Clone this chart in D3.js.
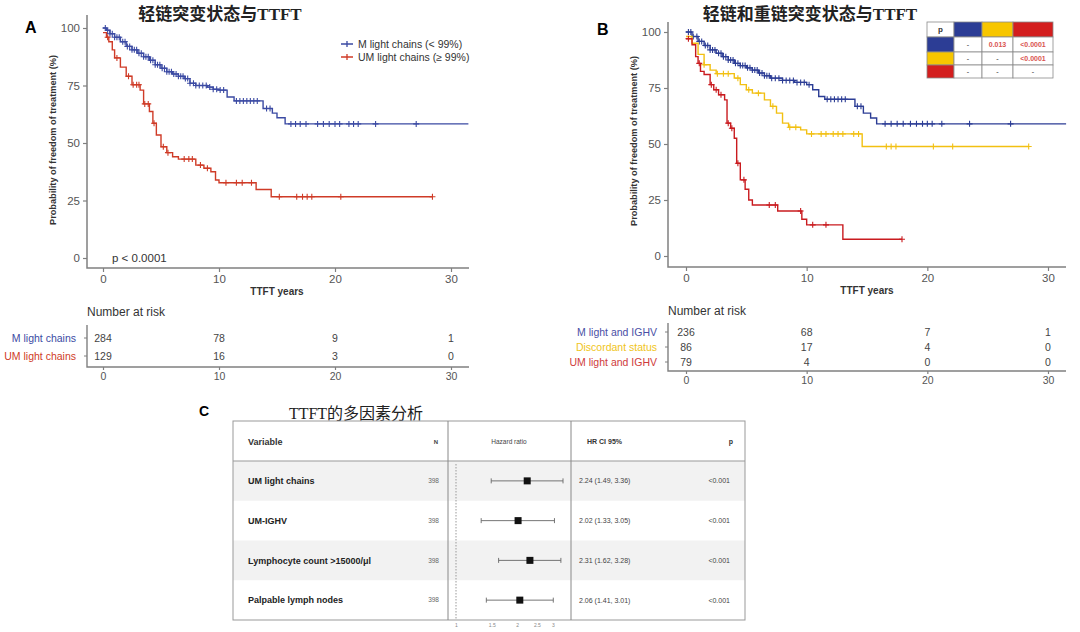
<!DOCTYPE html>
<html><head><meta charset="utf-8">
<script src="https://cdn.jsdelivr.net/npm/d3@7"></script>
<style>
body{margin:0;background:#fff}
svg{display:block}
text{font-family:"Liberation Sans",Arial,sans-serif}
</style>
</head><body>
<svg id="c" width="1080" height="632"></svg>
<script>
// ---------------- DATA ----------------
const xTicks = [0, 10, 20, 30];
const yTicks = [0, 25, 50, 75, 100];

// Panel A: KM steps (time, survival %)
const aM_t = [0,0.3,0.6,1,1.5,2,2.5,3,3.5,4,4.5,5,5.5,6,6.5,7,7.5,8,9,9.5,10,10.7,11.3,13.8,14.6,15,15.7];
const aM_s = [100,99,97.5,96,94,92,90.5,89,87.5,86,84,82.5,81,80,79,78,76,75,74.3,73.4,73,70,68.3,65,63,61,58.3];
const aM_end = 31.5;
const aM_cens = [0.2,0.4,0.6,0.8,1,1.2,1.4,1.7,1.9,2.1,2.3,2.5,2.7,2.9,3.1,3.3,3.5,3.7,3.9,4.1,4.3,4.5,4.7,4.9,5.1,5.3,5.5,5.7,5.9,6.1,6.3,6.5,6.7,6.9,7.1,7.3,7.5,7.8,8,8.3,8.6,8.9,9.2,9.5,9.8,10.1,10.4,11.5,11.8,12.1,12.4,12.7,13,13.3,14.1,14.4,16.2,16.6,17,17.5,18.5,19,19.5,20,20.4,21.2,21.6,22,23.5,27];

const aU_t = [0,0.3,0.5,0.8,1,1.5,2,2.5,3.2,3.5,4,4.3,4.6,5,5.5,6,6.5,8,8.7,9.3,9.7,10,13.2,14.5];
const aU_s = [98,96,94,90.5,87,83,79,75.3,73,67,63.7,58.6,53.5,48.4,45.8,44,43,40.4,39,37.5,33.9,32.7,29.8,26.6];
const aU_end = 28.4;
const aU_cens = [0.4,1.2,2.2,2.6,2.9,3.1,3.6,3.9,4.4,5.2,5.6,7,7.4,7.7,8.4,9,10.6,11.5,12,12.8,15.2,16.7,17.2,17.6,18,20.5,28.4];

// Panel B
const bM_t = [0,0.5,1,1.5,2,2.5,3,3.5,4,4.5,5,5.5,6,6.5,7,8,9,10,10.5,11,11.5,14,14.7,15.3,15.8];
const bM_s = [100,98,95.8,94,92,90.5,89,87.5,86,85,84,83,81.7,80.5,79.4,78.4,77.5,76.5,74.2,71.2,70,66.8,63.8,61.6,59];
const bM_end = 31.5;
const bM_cens = [0.2,0.4,0.6,0.9,1.1,1.3,1.6,1.8,2,2.2,2.4,2.7,2.9,3.1,3.3,3.5,3.7,3.9,4.1,4.3,4.5,4.7,4.9,5.1,5.3,5.5,5.7,5.9,6.1,6.3,6.5,6.7,6.9,7.1,7.4,7.7,8,8.3,8.6,8.9,9.2,9.5,9.8,10.2,11.7,12,12.3,12.6,12.9,13.2,14.2,14.5,16.5,17,17.5,18,18.6,19.1,19.6,20,20.4,21.2,23.5,26.9];

const bD_t = [0,0.5,1,1.5,2,2.5,4,4.5,5,5.5,6.5,7,7.5,8,8.5,9.5,10,14.6];
const bD_s = [98,95,90,85.4,83,81.4,79.4,76.5,74.2,72.7,69.7,66.8,63.8,59.3,57.5,56.3,54.5,48.9];
const bD_end = 28.4;
const bD_cens = [1.5,2.6,3.1,3.5,4.3,5.2,6,7.2,8.6,9.1,10.4,11.2,11.6,12.2,12.6,13,13.9,14.3,16.6,17,17.4,20.5,22.1,28.4];

const bU_t = [0,0.5,0.8,1,1.2,1.5,2,2.3,2.7,3.2,3.4,3.7,4,4.2,4.5,4.9,5.2,5.5,7.6,9.6,10,13];
const bU_s = [97,94.3,89,86,82.4,81,76.5,74.2,72,69.7,59.3,57,52.6,41.4,34,29.8,25,22.8,20.1,16.4,13.9,7.5];
const bU_end = 17.9;
const bU_cens = [0.2,1.1,2.1,2.5,2.9,3.5,3.8,4.3,4.8,6.9,7.4,9.5,10.5,11.6,17.9];

// Risk tables
const riskTimes = [0, 10, 20, 30];
const riskA_labels = ["M light chains", "UM light chains"];
const riskA_M = [284, 78, 9, 1];
const riskA_U = [129, 16, 3, 0];
const riskB_labels = ["M light and IGHV", "Discordant status", "UM light and IGHV"];
const riskB_M = [236, 68, 7, 1];
const riskB_D = [86, 17, 4, 0];
const riskB_U = [79, 4, 0, 0];

// Legend A
const legendA = ["M light chains (< 99%)", "UM light chains (\u2265 99%)"];

// p-value table B
const pTable = [["-", "0.013", "<0.0001"], ["-", "-", "<0.0001"], ["-", "-", "-"]];

// Forest plot
const fVars = ["UM light chains", "UM-IGHV", "Lymphocyte count >15000/\u03bcl", "Palpable lymph nodes"];
const fN = [398, 398, 398, 398];
const fHR = [2.24, 2.02, 2.31, 2.06];
const fLo = [1.49, 1.33, 1.62, 1.41];
const fHi = [3.36, 3.05, 3.28, 3.01];
const fP = ["<0.001", "<0.001", "<0.001", "<0.001"];
const fTicks = [1, 1.5, 2, 2.5, 3];

// ---------------- STYLE ----------------
const C = {
  aBlue: "#3b4aa3", aRed: "#cf3b27",
  bBlue: "#2c3d95", bYel: "#f2c012", bRed: "#c91b1f",
  axis: "#808080", tick: "#555"
};

const svg = d3.select("#c");
svg.append("rect").attr("width",1080).attr("height",632).attr("fill","#fff");

function stepVal(t, s, c) {
  const i = Math.max(0, d3.bisectRight(t, c) - 1);
  return s[i];
}

function curve(g, x, y, t, s, tEnd, col, cens) {
  const pts = t.map((d, i) => [d, s[i]]);
  pts.push([tEnd, s[s.length - 1]]);
  g.append("path")
    .attr("d", d3.line().x(d => x(d[0])).y(d => y(d[1])).curve(d3.curveStepAfter)(pts))
    .attr("fill", "none").attr("stroke", col).attr("stroke-width", 1.4);
  g.append("path")
    .attr("d", cens.map(c => {
      const cx = x(c), cy = y(stepVal(t, s, c));
      return `M${cx - 3},${cy}h6M${cx},${cy - 3}v6`;
    }).join(""))
    .attr("stroke", col).attr("stroke-width", 1.1).attr("fill", "none");
}

function styleAxis(sel, fs) {
  sel.select(".domain").remove();
  sel.selectAll(".tick line").attr("stroke", C.axis).attr("stroke-width", 1.2);
  sel.selectAll(".tick text").attr("fill", C.tick).style("font-size", fs + "px")
    .style("font-family", '"Liberation Sans",Arial,sans-serif');
}

function kmPanel(o) {
  const g = svg.append("g");
  g.append("g").attr("transform", `translate(0,${o.axY})`)
    .call(d3.axisBottom(o.x).tickValues(xTicks).tickSize(4).tickPadding(3))
    .call(s => styleAxis(s, 11.5));
  g.append("g").attr("transform", `translate(${o.axX},0)`)
    .call(d3.axisLeft(o.y).tickValues(yTicks).tickSize(4).tickPadding(3))
    .call(s => styleAxis(s, 11.5));
  g.append("path").attr("d", `M${o.axX},${o.yTop}V${o.axY}H${o.xRight}`)
    .attr("fill", "none").attr("stroke", C.axis).attr("stroke-width", 1.5);
  g.append("text").attr("x", (o.x(0) + o.x(30)) / 2).attr("y", o.axY + 27)
    .attr("text-anchor", "middle").style("font-size", "10px").style("font-weight", "bold")
    .attr("fill", "#333").text("TTFT years");
  g.append("text").attr("transform", `translate(${o.ytX},${(o.y(0) + o.y(100)) / 2 - 3}) rotate(-90)`)
    .attr("text-anchor", "middle").style("font-size", "9.2px").style("font-weight", "bold")
    .attr("fill", "#333").text("Probability of freedom of treatment (%)");
  return g;
}

function riskTable(o) {
  const g = svg.append("g");
  g.append("text").attr("x", o.axX).attr("y", o.titleY).style("font-size", "12px")
    .attr("fill", "#333").text("Number at risk");
  g.append("g").attr("transform", `translate(0,${o.axY})`)
    .call(d3.axisBottom(o.x).tickValues(riskTimes).tickSize(3).tickPadding(3))
    .call(s => styleAxis(s, 10.5));
  g.append("path").attr("d", `M${o.axX},${o.yTop}V${o.axY}H${o.xRight}`)
    .attr("fill", "none").attr("stroke", C.axis).attr("stroke-width", 1.4);
  o.rows.forEach((r, i) => {
    const yy = o.rowY[i];
    g.append("line").attr("x1", o.axX - 3).attr("x2", o.axX).attr("y1", yy).attr("y2", yy)
      .attr("stroke", C.axis);
    g.append("text").attr("x", o.axX - 11).attr("y", yy).attr("dy", "0.35em")
      .attr("text-anchor", "end").style("font-size", "10.5px").attr("fill", o.colors[i]).text(o.labels[i]);
    g.selectAll(null).data(r).enter().append("text")
      .attr("x", (d, j) => o.x(riskTimes[j])).attr("y", yy).attr("dy", "0.35em")
      .attr("text-anchor", "middle").style("font-size", "10.5px").attr("fill", "#444").text(d => d);
  });
}

// ---------------- PANEL A ----------------
const xA = d3.scaleLinear().domain([0, 30]).range([103, 451]);
const yA = d3.scaleLinear().domain([0, 100]).range([258, 28]);
const gA = kmPanel({x: xA, y: yA, axX: 87, axY: 268, yTop: 15, xRight: 469, ytX: 56});
curve(gA, xA, yA, aM_t, aM_s, aM_end, C.aBlue, aM_cens);
curve(gA, xA, yA, aU_t, aU_s, aU_end, C.aRed, aU_cens);
svg.append("text").attr("x", 25).attr("y", 33).style("font-size", "16px").style("font-weight", "bold").text("A");
svg.append("text").attr("x", 220).attr("y", 20).attr("text-anchor", "middle")
  .style("font-family", '"Liberation Serif","Noto Sans CJK SC",serif').style("font-size", "17px")
  .style("font-weight", "bold").attr("fill", "#222").text("轻链突变状态与TTFT");
svg.append("text").attr("x", 112).attr("y", 262).style("font-size", "11.5px").attr("fill", "#333").text("p < 0.0001");
[C.aBlue, C.aRed].forEach((col, i) => {
  const yy = 44 + i * 13;
  svg.append("path").attr("d", `M341,${yy}h12M347,${yy - 3}v6`).attr("stroke", col).attr("stroke-width", 1.3);
  svg.append("text").attr("x", 358).attr("y", yy).attr("dy", "0.35em").style("font-size", "10.5px")
    .attr("fill", "#333").text(legendA[i]);
});
riskTable({x: xA, axX: 87, axY: 367, yTop: 325, xRight: 469, titleY: 316,
  rows: [riskA_M, riskA_U], rowY: [338, 356], labels: riskA_labels, colors: [C.aBlue, C.aRed]});

// ---------------- PANEL B ----------------
const xB = d3.scaleLinear().domain([0, 30]).range([686, 1048]);
const yB = d3.scaleLinear().domain([0, 100]).range([256, 32]);
const gB = kmPanel({x: xB, y: yB, axX: 668, axY: 267, yTop: 22, xRight: 1066, ytX: 637});
curve(gB, xB, yB, bM_t, bM_s, bM_end, C.bBlue, bM_cens);
curve(gB, xB, yB, bD_t, bD_s, bD_end, C.bYel, bD_cens);
curve(gB, xB, yB, bU_t, bU_s, bU_end, C.bRed, bU_cens);
svg.append("text").attr("x", 597).attr("y", 35).style("font-size", "16px").style("font-weight", "bold").text("B");
svg.append("text").attr("x", 810).attr("y", 20).attr("text-anchor", "middle")
  .style("font-family", '"Liberation Serif","Noto Sans CJK SC",serif').style("font-size", "17px")
  .style("font-weight", "bold").attr("fill", "#222").text("轻链和重链突变状态与TTFT");
const pColX = [927, 954, 982, 1013, 1053];
const pRowY = [22, 37, 52, 65, 78];
const pColors = [C.bBlue, "#f7c600", "#d31e1e"];
const pt = svg.append("g");
for (let r = 0; r < 4; r++) for (let c = 0; c < 4; c++) {
  let fill = "#fff";
  if (r === 0 && c > 0) fill = pColors[c - 1];
  if (c === 0 && r > 0) fill = pColors[r - 1];
  pt.append("rect").attr("x", pColX[c]).attr("y", pRowY[r]).attr("width", pColX[c + 1] - pColX[c])
    .attr("height", pRowY[r + 1] - pRowY[r]).attr("fill", fill).attr("stroke", "#8a8a8a").attr("stroke-width", 0.8);
  const cx = (pColX[c] + pColX[c + 1]) / 2, cy = (pRowY[r] + pRowY[r + 1]) / 2;
  if (r === 0 && c === 0) pt.append("text").attr("x", cx).attr("y", cy).attr("dy", "0.35em")
    .attr("text-anchor", "middle").style("font-size", "8px").style("font-weight", "bold").attr("fill", "#333").text("p");
  if (r > 0 && c > 0) {
    const v = pTable[r - 1][c - 1];
    pt.append("text").attr("x", cx).attr("y", cy).attr("dy", "0.35em").attr("text-anchor", "middle")
      .style("font-size", "7px").style("font-weight", "bold")
      .attr("fill", v === "-" ? "#777" : "#d9534f").text(v);
  }
}
riskTable({x: xB, axX: 668, axY: 371, yTop: 323, xRight: 1066, titleY: 315,
  rows: [riskB_M, riskB_D, riskB_U], rowY: [332, 347, 362], labels: riskB_labels,
  colors: ["#4a4fa5", "#f0c419", "#cf3b3b"]});

// ---------------- PANEL C ----------------
svg.append("text").attr("x", 199).attr("y", 416).style("font-size", "14px").style("font-weight", "bold").text("C");
svg.append("text").attr("x", 356).attr("y", 419).attr("text-anchor", "middle")
  .style("font-family", '"Liberation Serif","Noto Sans CJK SC",serif').style("font-size", "16px")
  .attr("fill", "#222").text("TTFT的多因素分析");
const tL = 233, tR = 745, tT = 421, tH = 461, tB = 620;
const rowH = (tB - tH) / fVars.length;
const gC = svg.append("g");
fVars.forEach((v, i) => {
  if (i % 2 === 0) gC.append("rect").attr("x", tL).attr("y", tH + i * rowH).attr("width", tR - tL)
    .attr("height", rowH).attr("fill", "#f2f2f2");
});
gC.append("rect").attr("x", tL).attr("y", tT).attr("width", tR - tL).attr("height", tB - tT)
  .attr("fill", "none").attr("stroke", "#999");
gC.append("line").attr("x1", tL).attr("x2", tR).attr("y1", tH).attr("y2", tH).attr("stroke", "#999");
[448, 571].forEach(xx => gC.append("line").attr("x1", xx).attr("x2", xx).attr("y1", tT).attr("y2", tB).attr("stroke", "#888"));
const fx = d3.scaleLog().domain([1, 3]).range([456, 553]);
gC.append("line").attr("x1", fx(1)).attr("x2", fx(1)).attr("y1", tH + 3).attr("y2", tB)
  .attr("stroke", "#999").attr("stroke-dasharray", "1.5,1.5");
const hdrY = 442;
gC.append("text").attr("x", 248).attr("y", hdrY).attr("dy", "0.35em").style("font-size", "9px")
  .style("font-weight", "bold").attr("fill", "#333").text("Variable");
gC.append("text").attr("x", 438).attr("y", hdrY).attr("dy", "0.35em").attr("text-anchor", "end")
  .style("font-size", "6px").style("font-weight", "bold").attr("fill", "#444").text("N");
gC.append("text").attr("x", 509).attr("y", hdrY).attr("dy", "0.35em").attr("text-anchor", "middle")
  .style("font-size", "6.5px").attr("fill", "#444").text("Hazard ratio");
gC.append("text").attr("x", 587).attr("y", hdrY).attr("dy", "0.35em")
  .style("font-size", "7px").style("font-weight", "bold").attr("fill", "#333").text("HR   CI 95%");
gC.append("text").attr("x", 733).attr("y", hdrY).attr("dy", "0.35em").attr("text-anchor", "end")
  .style("font-size", "7px").style("font-weight", "bold").attr("fill", "#333").text("p");
fVars.forEach((v, i) => {
  const cy = tH + (i + 0.5) * rowH;
  gC.append("text").attr("x", 248).attr("y", cy).attr("dy", "0.35em").style("font-size", "9px")
    .style("font-weight", "bold").attr("fill", "#222").text(v);
  gC.append("text").attr("x", 439).attr("y", cy).attr("dy", "0.35em").attr("text-anchor", "end")
    .style("font-size", "6.5px").attr("fill", "#666").text(fN[i]);
  gC.append("line").attr("x1", fx(fLo[i])).attr("x2", fx(fHi[i])).attr("y1", cy).attr("y2", cy)
    .attr("stroke", "#666").attr("stroke-width", 0.9);
  [fLo[i], fHi[i]].forEach(e => gC.append("line").attr("x1", fx(e)).attr("x2", fx(e))
    .attr("y1", cy - 2.5).attr("y2", cy + 2.5).attr("stroke", "#666").attr("stroke-width", 0.9));
  gC.append("rect").attr("x", fx(fHR[i]) - 3.5).attr("y", cy - 3.5).attr("width", 7).attr("height", 7).attr("fill", "#111");
  gC.append("text").attr("x", 579).attr("y", cy).attr("dy", "0.35em").style("font-size", "7px").attr("fill", "#444")
    .text(`${fHR[i].toFixed(2)} (${fLo[i].toFixed(2)}, ${fHi[i].toFixed(2)})`);
  gC.append("text").attr("x", 730).attr("y", cy).attr("dy", "0.35em").attr("text-anchor", "end")
    .style("font-size", "7px").attr("fill", "#444").text(fP[i]);
});
gC.append("g").attr("transform", `translate(0,${tB})`)
  .call(d3.axisBottom(fx).tickValues(fTicks).tickFormat(d => String(d)).tickSize(0).tickPadding(3))
  .call(s => { s.select(".domain").remove(); s.selectAll(".tick text").attr("fill", "#888").style("font-size", "5px"); });
</script>
</body></html>
